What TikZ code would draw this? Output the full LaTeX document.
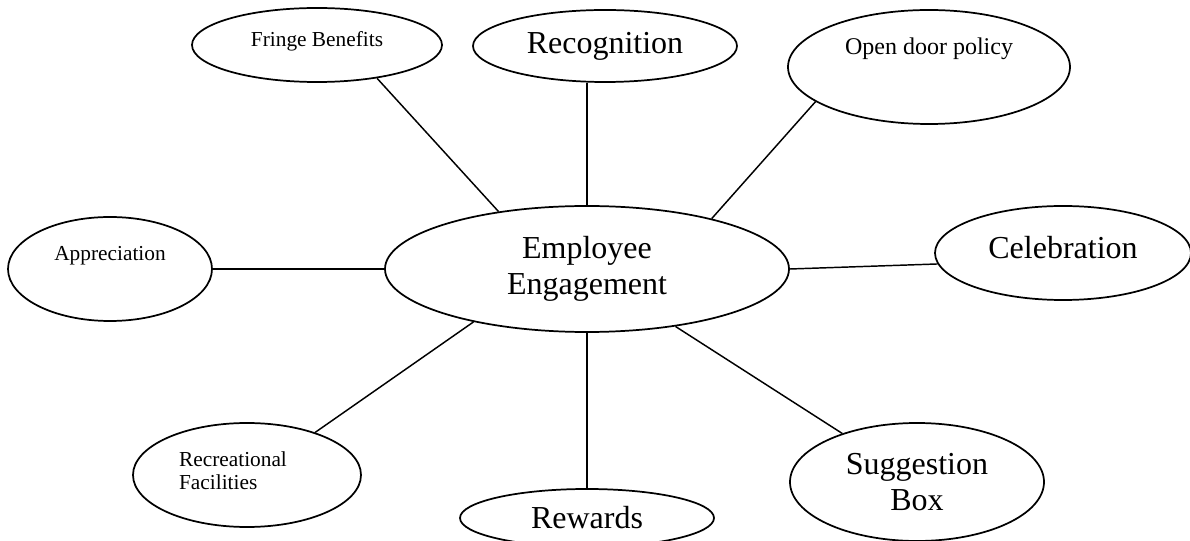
\documentclass[tikz,border=0pt]{standalone}
\usepackage{fontspec}
\setmainfont{Liberation Serif}
\usetikzlibrary{shapes.geometric}
\newcommand{\bigtxt}{\fontsize{24}{27.5}\selectfont}
\newcommand{\midtxt}{\fontsize{18}{20}\selectfont}
\newcommand{\smalltxt}{\fontsize{16}{17.5}\selectfont}
\begin{document}
\begin{tikzpicture}[x=0.75pt, y=-0.75pt,
  bubble/.style={ellipse, draw, line width=1.3pt, inner sep=0pt},
  spoke/.style={line width=1.1pt}]

  %% --- Frame of the page (pixel grid, y downwards) ---
  \useasboundingbox (0,0) rectangle (1190,541);

  %% --- Centre ellipse ---
  \node[bubble, minimum width=303pt, minimum height=94.5pt,
    align=center, font=\bigtxt] (engage) at (587,269)
    {Employee\\Engagement};

  %% --- Top row ---
  \node[bubble, minimum width=187.5pt, minimum height=55.5pt,
    label={[font=\smalltxt, yshift=3pt]center:Fringe Benefits}]
    (fringe) at (317,45) {};
  \node[bubble, minimum width=198pt, minimum height=54pt,
    font=\bigtxt] (recog) at (605,46) {Recognition};
  \node[bubble, minimum width=211.5pt, minimum height=85.5pt,
    label={[font=\midtxt, yshift=14pt]center:Open door policy}]
    (opendoor) at (929,67) {};

  %% --- Middle row ---
  \node[bubble, minimum width=153pt, minimum height=78pt,
    label={[font=\smalltxt, yshift=10pt]center:Appreciation}]
    (apprec) at (110,269) {};
  \node[bubble, minimum width=192pt, minimum height=70.5pt,
    label={[font=\bigtxt, yshift=4pt]center:Celebration}]
    (celeb) at (1063,253) {};

  %% --- Bottom row ---
  \node[bubble, minimum width=171pt, minimum height=78pt,
    label={[font=\smalltxt, align=left, xshift=-10.5pt, yshift=3pt]center:Recreational\\Facilities}]
    (recre) at (247,475) {};
  \node[bubble, minimum width=190.5pt, minimum height=43.5pt,
    font=\bigtxt] (rewards) at (587,518) {Rewards};
  \node[bubble, minimum width=190.5pt, minimum height=88.5pt,
    align=center, font=\bigtxt] (suggest) at (917,482)
    {Suggestion\\Box};

  %% --- Spokes to the centre ---
  \draw[spoke] (fringe.-29) -- (engage.147);
  \draw[spoke] (recog.south -| engage.north) -- (engage.north);
  \draw[spoke] (opendoor.197) -- (engage.22.5);
  \draw[spoke] (apprec.east) -- (engage.west);
  \draw[spoke] (engage.east) -- (celeb.185);
  \draw[spoke] (recre.32) -- (engage.205);
  \draw[spoke] (engage.south) -- (rewards.north);
  \draw[spoke] (engage.-33) -- (suggest.147);
\end{tikzpicture}
\end{document}
